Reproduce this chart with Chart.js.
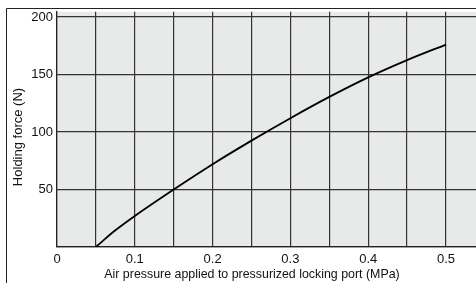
<!DOCTYPE html>
<html>
<head>
<meta charset="utf-8">
<script src="https://cdn.jsdelivr.net/npm/chart.js@4"></script>
<style>
  html, body { margin: 0; padding: 0; background: #fff; overflow: hidden; }
  #wrap { position: relative; width: 476px; height: 283px; }
</style>
</head>
<body>
<div id="wrap"><canvas id="force-chart" width="476" height="283"></canvas></div>
<script>
// Holding force vs. air pressure
var pressure = [0.05, 0.06, 0.075, 0.1, 0.15, 0.2, 0.25, 0.3, 0.35, 0.4, 0.45, 0.5];
var holdingForce = [0, 6, 14.5, 27, 50, 72, 92.5, 112, 130.5, 147.5, 162.5, 176];
var xTickLabels = ['0', '0.1', '0.2', '0.3', '0.4', '0.5'];
var yTickLabels = ['50', '100', '150', '200'];
var xTitle = 'Air pressure applied to pressurized locking port (MPa)';
var yTitle = 'Holding force (N)';

var FONT = '"Liberation Sans", Arial, Helvetica, sans-serif';

// grey plot background, outer frame and axis titles
var decorPlugin = {
    id: 'decor',
    beforeDraw: function(chart) {
        var ctx = chart.ctx, a = chart.chartArea;
        ctx.save();
        ctx.fillStyle = '#e8e9e9';
        ctx.fillRect(a.left, a.top, a.right - a.left, a.bottom - a.top);
        ctx.restore();
    },
    afterDraw: function(chart) {
        var ctx = chart.ctx;
        ctx.save();
        ctx.strokeStyle = '#222';
        ctx.lineWidth = 1;
        ctx.beginPath();
        ctx.moveTo(6.5, 283);
        ctx.lineTo(6.5, 8.5);
        ctx.lineTo(476, 8.5);
        ctx.stroke();

        ctx.fillStyle = '#111';
        ctx.textAlign = 'center';
        ctx.textBaseline = 'middle';
        ctx.font = '12.4px ' + FONT;
        ctx.fillText(xTitle, 252, 275);
        ctx.font = '13px ' + FONT;
        ctx.translate(18, 137);
        ctx.rotate(-Math.PI / 2);
        ctx.fillText(yTitle, 0, 0);
        ctx.restore();
    }
};

document.addEventListener('DOMContentLoaded', function() {
    var ctx = document.getElementById('force-chart').getContext('2d');
    var points = pressure.map(function(p, i) { return { x: p, y: holdingForce[i] }; });

    new Chart(ctx, {
        type: 'line',
        data: {
            datasets: [{
                label: 'Holding force',
                data: points,
                borderColor: '#000',
                borderWidth: 1.8,
                pointRadius: 0,
                fill: false,
                cubicInterpolationMode: 'monotone'
            }]
        },
        options: {
            responsive: false,
            animation: false,
            layout: { padding: { top: 8, right: 0, bottom: 0, left: 0 } },
            plugins: {
                legend: { display: false },
                tooltip: { enabled: false }
            },
            scales: {
                x: {
                    type: 'linear',
                    min: 0,
                    max: 419 / 778,
                    afterFit: function(s) { s.height = 36; },
                    grid: { color: '#333', lineWidth: 1.2, drawTicks: false },
                    border: { color: '#222', width: 1.2 },
                    ticks: {
                        stepSize: 0.05,
                        includeBounds: false,
                        maxRotation: 0,
                        autoSkip: false,
                        padding: 5,
                        color: '#111',
                        font: { family: FONT, size: 13 },
                        callback: function(v) {
                            var k = Math.round(v * 100);
                            return k % 10 === 0 ? xTickLabels[k / 10] : '';
                        }
                    }
                },
                y: {
                    min: 0,
                    max: 204.5,
                    afterFit: function(s) { s.width = 57; },
                    grid: { color: '#333', lineWidth: 1.2, drawTicks: false },
                    border: { color: '#222', width: 1.2 },
                    ticks: {
                        stepSize: 50,
                        includeBounds: false,
                        padding: 4,
                        color: '#111',
                        font: { family: FONT, size: 13 },
                        callback: function(v) {
                            var k = Math.round(v / 50);
                            return k >= 1 ? yTickLabels[k - 1] : '';
                        }
                    }
                }
            }
        },
        plugins: [decorPlugin]
    });
});
</script>
</body>
</html>
